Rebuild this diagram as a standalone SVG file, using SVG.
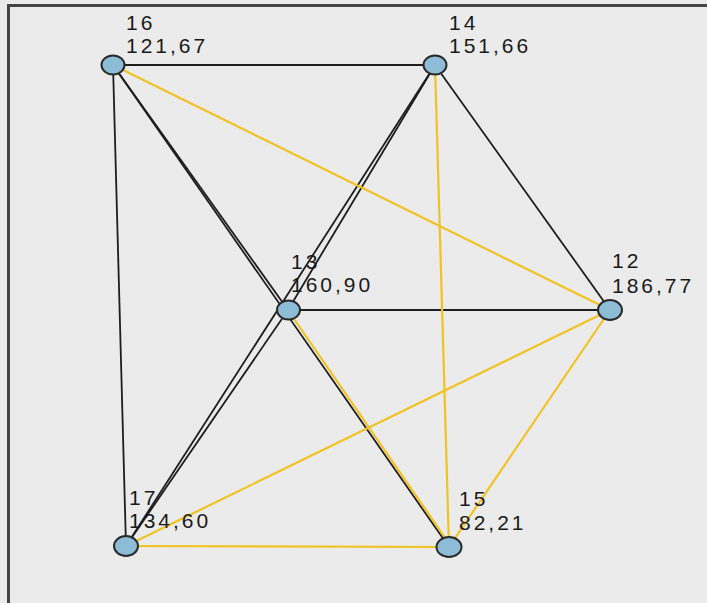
<svg xmlns="http://www.w3.org/2000/svg" width="707" height="603" viewBox="0 0 707 603">
<style>
.bg{fill:#ebebeb}
.frame{stroke:#444;stroke-width:3;fill:none}
.e{stroke:#1e1e1e;stroke-width:1.8;fill:none}
.y{stroke:#f0c322;stroke-width:2.2;fill:none}
.n{fill:#8cbcd6;stroke:#2a2a2a;stroke-width:2}
.t{font-family:"Liberation Sans",Arial,sans-serif;font-size:21px;letter-spacing:3px;fill:#1a1a1a}
</style>
<rect class="bg" x="0" y="0" width="707" height="603"/>
<path class="frame" d="M8.5,603 V5.5 H707"/>
<g id="connectors">
<line class="e" x1="113" y1="65" x2="435" y2="65"/>
<line class="e" x1="113" y1="65" x2="126" y2="546"/>
<line class="e" x1="113" y1="65" x2="288" y2="310"/>
<line class="e" x1="113" y1="65" x2="449" y2="547"/>
<line class="e" x1="435" y1="65" x2="288" y2="310"/>
<line class="e" x1="435" y1="65" x2="126" y2="546"/>
<line class="e" x1="288" y1="310" x2="126" y2="546"/>
<line class="e" x1="435" y1="65" x2="610" y2="310"/>
<line class="e" x1="288" y1="310" x2="610" y2="310"/>
<line class="y" x1="113" y1="65" x2="610" y2="310"/>
<line class="y" x1="435" y1="65" x2="449" y2="547"/>
<line class="y" x1="126" y1="546" x2="610" y2="310"/>
<line class="y" x1="449" y1="547" x2="610" y2="310"/>
<line class="y" x1="126" y1="546" x2="449" y2="547"/>
<line class="y" x1="290" y1="313" x2="452" y2="548"/>
</g>
<g id="n16"><ellipse class="n" cx="113" cy="65" rx="11.5" ry="9.5"/><text class="t" x="126" y="30">16</text><text class="t" x="126" y="53">121,67</text></g>
<g id="n14"><ellipse class="n" cx="435" cy="65" rx="11.5" ry="9.5"/><text class="t" x="449" y="30">14</text><text class="t" x="449" y="53">151,66</text></g>
<g id="n13"><ellipse class="n" cx="288.5" cy="310" rx="11.5" ry="9.5"/><text class="t" x="291" y="269">13</text><text class="t" x="291" y="292">160,90</text></g>
<g id="n12"><ellipse class="n" cx="610" cy="310" rx="12" ry="10"/><text class="t" x="612" y="268">12</text><text class="t" x="612" y="293">186,77</text></g>
<g id="n17"><ellipse class="n" cx="126" cy="546" rx="12" ry="10"/><text class="t" x="129" y="505">17</text><text class="t" x="129" y="528">134,60</text></g>
<g id="n15"><ellipse class="n" cx="449" cy="547" rx="12.5" ry="10"/><text class="t" x="459" y="506">15</text><text class="t" x="459" y="530">82,21</text></g>
</svg>
